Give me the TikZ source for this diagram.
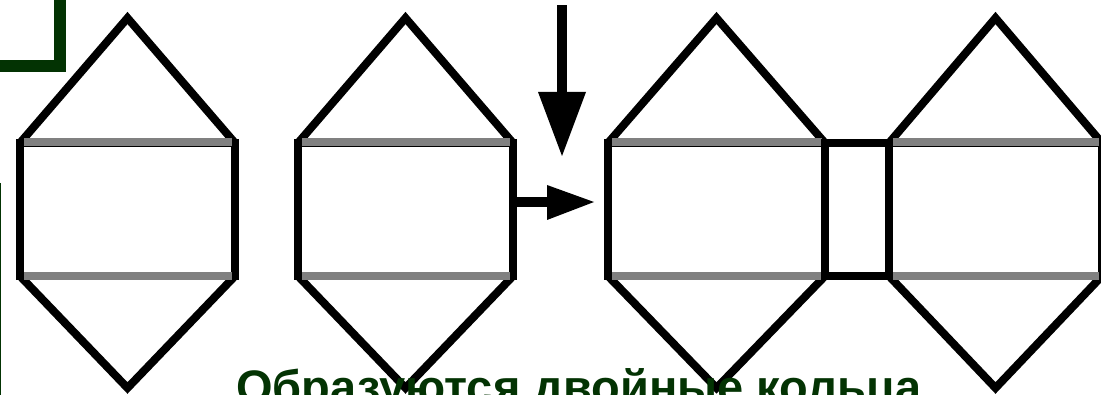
\documentclass[tikz,border=0pt]{standalone}
\usepackage{fontspec}
\setmainfont{Liberation Sans}
\definecolor{dkgreen}{RGB}{3,51,3}
\definecolor{midgray}{RGB}{128,128,128}
\begin{document}
\begin{tikzpicture}[x=1pt,y=-1pt,
  blk/.style={draw=black,line width=8pt,line join=miter},
  gry/.style={draw=midgray,line width=8pt},
  grn/.style={draw=dkgreen,line width=12pt}]
\useasboundingbox (0,0) rectangle (1101,395);
\clip (0,0) rectangle (1101,395);
% green frame fragments
\draw[grn] (0,66) -- (60,66) -- (60,-10);
\draw[dkgreen,line width=2pt] (0,183) -- (0,400);
% hexagons
\foreach \L/\R in {20/235, 298/513, 608/825, 889/1102}{
  \pgfmathsetmacro{\M}{(\L+\R)/2}
  \draw[blk] (\L,143) -- (\M,18) -- (\R,143);
  \draw[blk] (\L,276) -- (\M,388) -- (\R,276);
  \draw[blk] (\L,143) rectangle (\R,276);
  \draw[gry] (\L+4,142) -- (\R-3,142);
  \draw[gry] (\L+4,276) -- (\R-3,276);
}
% junction box
\draw[blk] (825,143) rectangle (889,276);
% arrows
\fill[black] (557,5) rectangle (567,93);
\fill[black] (538,92) -- (586,92) -- (562,156) -- cycle;
\fill[black] (513,197) rectangle (548,207);
\fill[black] (547,185) -- (547,220) -- (594,202) -- cycle;
% caption
\node[anchor=base west,inner sep=0pt,text=dkgreen,font=\bfseries\fontsize{47}{50}\selectfont] (cap) at (236,403) {Образуются двойные кольца};
\end{tikzpicture}
\end{document}
